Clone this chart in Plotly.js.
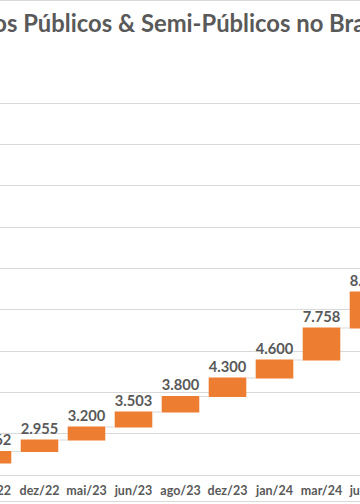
<!DOCTYPE html>
<html><head><meta charset="utf-8">
<script src="https://cdn.plot.ly/plotly-3.0.1.min.js"></script>
<style>
html,body{margin:0;padding:0;width:360px;height:504px;overflow:hidden;background:#fff;}
#wrap{position:absolute;left:-60px;top:0;width:480px;height:504px;}
</style></head><body><div id="wrap"></div>
<script>
// categories (first one only partly visible in the reference)
const categories = ["set/22","dez/22","mai/23","jun/23","ago/23","dez/23","jan/24","mar/24","jun/24"];
// data labels shown above each bar
const labels = ["2.862","2.955","3.200","3.503","3.800","4.300","4.600","7.758","8.813"];
// waterfall: starting level and the step of each floating bar (as drawn)
const startLevel = 291;
const steps = [278, 278, 315, 363, 376, 448, 436, 774, 872];
const measures = ["relative","relative","relative","relative","relative","relative","relative","relative","relative"];

const grey = "#595959";
const trace = {
  type: "waterfall",
  x: categories,
  y: steps,
  base: startLevel,
  measure: measures,
  text: labels,
  textposition: "outside",
  textfont: {family: "Lato", size: 15.5, color: grey, weight: 700},
  increasing: {marker: {color: "#ED7D31"}},
  decreasing: {marker: {color: "#ED7D31"}},
  totals: {marker: {color: "#ED7D31"}},
  connector: {mode: "between", line: {color: "#D9D9D9", width: 1}},
  cliponaxis: false,
  hoverinfo: "skip"
};

const layout = {
  width: 480, height: 504,
  margin: {l: 0, r: 0, t: 62, b: 29},
  paper_bgcolor: "#fff", plot_bgcolor: "#fff",
  showlegend: false,
  bargap: 0.34,
  title: {
    text: "Pontos Públicos & Semi-Públicos no Brasil",
    font: {family: "Lato", size: 23.8, color: grey, weight: 700},
    xref: "container", x: 0.470, xanchor: "center",
    yref: "container", y: 1 - 24/504, yanchor: "middle"
  },
  xaxis: {
    type: "category", range: [-1.117, 9.096],
    showgrid: false, zeroline: false,
    showline: true, linecolor: "#D9D9D9", linewidth: 1,
    ticks: "", ticklabelstandoff: 4,
    tickfont: {family: "Lato", size: 12.5, color: grey, weight: 700},
    fixedrange: true
  },
  yaxis: {
    range: [0, 10000], dtick: 1000, tick0: 0,
    showgrid: true, gridcolor: "#D9D9D9", gridwidth: 1,
    zeroline: false, showticklabels: false, ticks: "", fixedrange: true
  },
  shapes: [
    {type: "line", xref: "paper", yref: "paper", x0: -1, x1: 2, y0: (475 - 0.5)/413, y1: (475 - 0.5)/413, line: {color: "#D9D9D9", width: 1}},
    {type: "line", xref: "paper", yref: "paper", x0: -1, x1: 2, y0: (475 - 501.5)/413, y1: (475 - 501.5)/413, line: {color: "#D9D9D9", width: 1}}
  ]
};

Plotly.newPlot("wrap", [trace], layout, {displayModeBar: false, staticPlot: true});
</script></body></html>
